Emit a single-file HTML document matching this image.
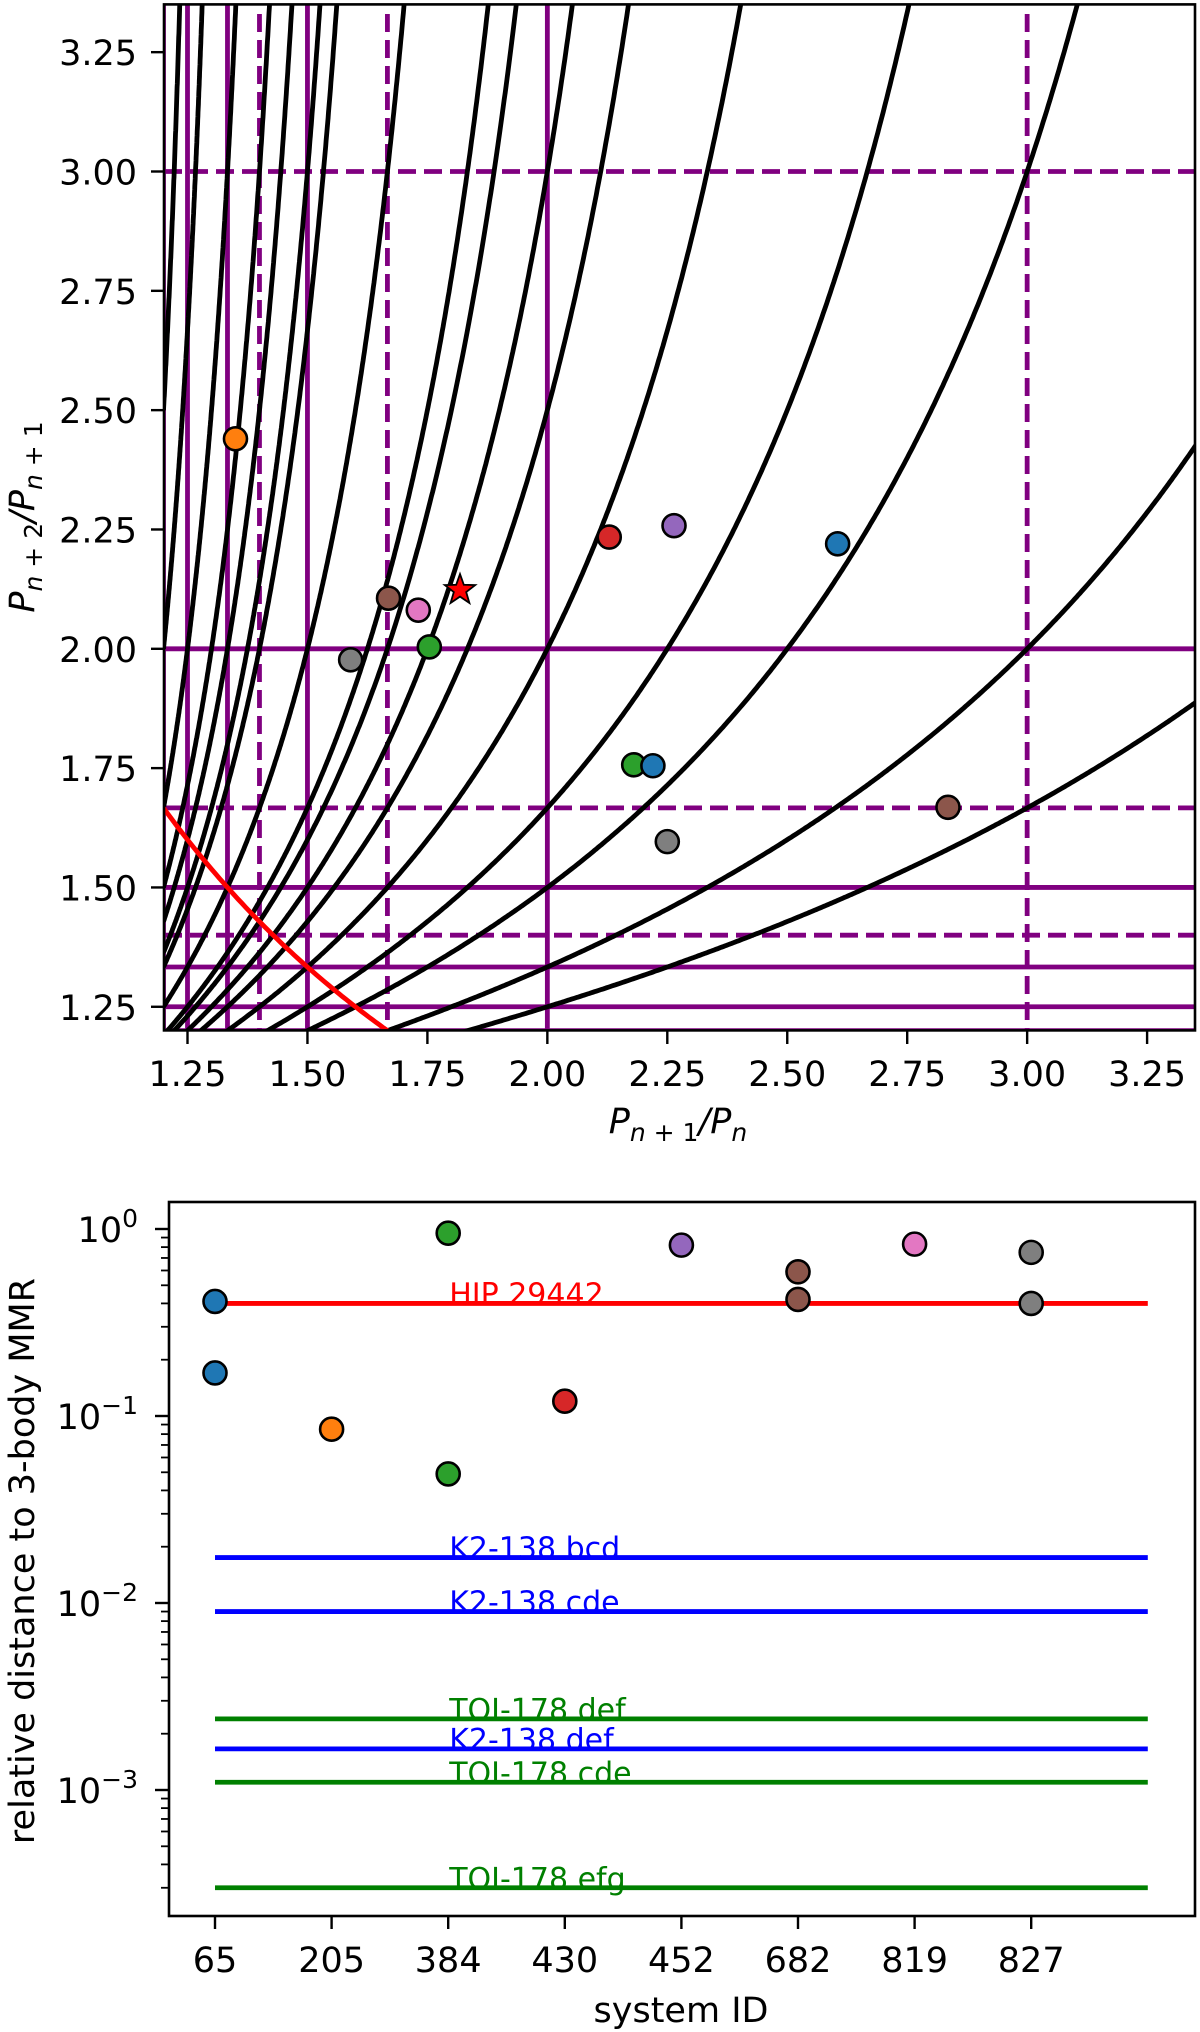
<!DOCTYPE html>
<html><head><meta charset="utf-8"><style>
html,body{margin:0;padding:0;background:#fff;}
svg{display:block;font-family:"DejaVu Sans","Liberation Sans",sans-serif;}
</style></head><body>
<svg id="fig" width="1200" height="2032" viewBox="0 0 1200 2032" xmlns="http://www.w3.org/2000/svg">
<defs>
<clipPath id="clipTop"><rect x="164" y="4.4" width="1031" height="1026"/></clipPath>
<clipPath id="clipBot"><rect x="169" y="1202" width="1026" height="714"/></clipPath>
</defs>
<g id="topPlot"></g>
<g id="botPlot"></g>
</svg>
<script>
// ---- Top chart data ----
const resP = [1,1,1,1,1,2,2,2,3,3,3,3,4,4,4,5,5,5,5];
const resQ = [1,2,3,4,5,1,3,5,1,2,4,5,1,3,5,1,2,3,4];
const solidRatios = [1.2, 1.25, 4/3, 1.5, 2.0];
const dashedRatios = [1.4, 5/3, 3.0];
const topTicks = [1.25,1.5,1.75,2.0,2.25,2.5,2.75,3.0,3.25];
const topTickLabels = ["1.25","1.50","1.75","2.00","2.25","2.50","2.75","3.00","3.25"];
const ptX = [1.35,1.669,1.731,1.754,1.590,2.129,2.264,2.605,2.18,2.22,2.25,2.835];
const ptY = [2.44,2.106,2.081,2.004,1.977,2.234,2.258,2.22,1.757,1.755,1.596,1.668];
const ptColor = ["#ff7f0e","#8c564b","#e377c2","#2ca02c","#7f7f7f","#d62728","#9467bd","#1f77b4","#2ca02c","#1f77b4","#7f7f7f","#8c564b"];
const starX = [1.818];
const starY = [2.123];

// ---- Bottom chart data ----
const systems = ["65","205","384","430","452","682","819","827"];
const sysColor = ["#1f77b4","#ff7f0e","#2ca02c","#d62728","#9467bd","#8c564b","#e377c2","#7f7f7f"];
const dotSys = [0,0,1,2,2,3,4,5,5,6,7,7];
const dotVal = [0.41,0.17,0.085,0.95,0.049,0.12,0.82,0.59,0.42,0.83,0.75,0.40];
const refNames = ["HIP 29442","K2-138 bcd","K2-138 cde","TOI-178 def","K2-138 def","TOI-178 cde","TOI-178 efg"];
const refVals = [0.40,0.0175,0.009,0.0024,0.00166,0.0011,0.0003];
const refColors = ["red","blue","blue","green","blue","green","green"];
const yDecades = [0,-1,-2,-3];

const NS="http://www.w3.org/2000/svg";
const LW=4.8, FS=35;
function mk(tag, attrs, parent, text){
  const e=document.createElementNS(NS,tag);
  for(const k in attrs) e.setAttribute(k,attrs[k]);
  if(text!==undefined) e.textContent=text;
  parent.appendChild(e); return e;
}
function addT(parent,txt,attrs){return mk('tspan',attrs||{},parent,txt);}
// ---------- TOP ----------
const topG=document.getElementById('topPlot');
const X=v=>187.5+(v-1.25)*479.8;
const Y=v=>171.5+(3-v)*477.3;
const gClip=mk('g',{'clip-path':'url(#clipTop)'},topG);


solidRatios.forEach(r=>{
  const v=mk('line',{x1:X(r),x2:X(r),y1:0,y2:1040,stroke:'#800080','stroke-width':LW},gClip);
  
  
  const h=mk('line',{x1:160,x2:1200,y1:Y(r),y2:Y(r),stroke:'#800080','stroke-width':LW},gClip);
  
  
});
dashedRatios.forEach(r=>{
  const v=mk('line',{x1:X(r),x2:X(r),y1:14,y2:1040,stroke:'#800080','stroke-width':LW,'stroke-dasharray':'18 8'},gClip);
  
  
  const h=mk('line',{x1:164,x2:1200,y1:Y(r),y2:Y(r),stroke:'#800080','stroke-width':LW,'stroke-dasharray':'18 8'},gClip);
  
  
});
for(let i=0;i<resP.length;i++){
  const p=resP[i],q=resQ[i];
  const asym=(p+q)/p; let d='';
  for(let k=0;k<=600;k++){
    const x=1.2+(Math.min(asym-1e-4,3.4)-1.2)*k/600;
    const y=q/(p+q-p*x);
    if(y>4){ d+=(d?'L':'M')+X(x).toFixed(1)+','+Y(4).toFixed(1); break; }
    d+=(d?'L':'M')+X(x).toFixed(1)+','+Y(y).toFixed(1);
  }
  const c=mk('path',{d:d,fill:'none',stroke:'#000','stroke-width':LW},gClip);
  
  
}
{let d='';for(let k=0;k<=60;k++){const x=1.2+(2/1.2-1.2)*k/60;d+=(k?'L':'M')+X(x).toFixed(1)+','+Y(2/x).toFixed(1);}
 const r=mk('path',{d:d,fill:'none',stroke:'red','stroke-width':LW},gClip);
 
 }
for(let i=0;i<ptX.length;i++){
  const c=mk('circle',{cx:X(ptX[i]),cy:Y(ptY[i]),r:11.5,fill:ptColor[i],stroke:'#000','stroke-width':2.6},gClip);
  
  
}
for(let i=0;i<starX.length;i++){
  const cx=X(starX[i]),cy=Y(starY[i]);let d='';
  for(let k=0;k<10;k++){const a=-Math.PI/2+k*Math.PI/5;const rr=k%2?6.5:16;d+=(k?'L':'M')+(cx+rr*Math.cos(a)).toFixed(1)+','+(cy+rr*Math.sin(a)).toFixed(1);}
  const s=mk('path',{d:d+'Z',fill:'red',stroke:'#000','stroke-width':1.8},gClip);
  
  
}
const frame=mk('rect',{x:164,y:4.4,width:1031,height:1026,fill:'none',stroke:'#000','stroke-width':2.6},topG);


topTicks.forEach((t,i)=>{
  mk('line',{x1:X(t),x2:X(t),y1:1031,y2:1044,stroke:'#000','stroke-width':2.4},topG);
  const lx=mk('text',{x:X(t),y:1086,'font-size':FS,'text-anchor':'middle'},topG,topTickLabels[i]);
  
  
  mk('line',{x1:151,x2:164,y1:Y(t),y2:Y(t),stroke:'#000','stroke-width':2.4},topG);
  const ly=mk('text',{x:137,y:Y(t)+13,'font-size':FS,'text-anchor':'end'},topG,topTickLabels[i]);
  
  
});
{const t=mk('text',{x:678,y:1133,'font-size':FS,'text-anchor':'middle','font-style':'italic'},topG);
 
 
 addT(t,'P');addT(t,'n',{'font-size':25,dy:8});addT(t,' + 1',{'font-size':25,'font-style':'normal'});addT(t,'/P',{dy:-8});addT(t,'n',{'font-size':25,dy:8});
 const u=mk('text',{x:0,y:0,'font-size':FS,'text-anchor':'middle','font-style':'italic',transform:'translate(34,517) rotate(-90)'},topG);
 
 
 addT(u,'P');addT(u,'n',{'font-size':25,dy:8});addT(u,' + 2',{'font-size':25,'font-style':'normal'});addT(u,'/P',{dy:-8});addT(u,'n',{'font-size':25,dy:8});addT(u,' + 1',{'font-size':25,'font-style':'normal'});
}
// ---------- BOTTOM ----------
const botG=document.getElementById('botPlot');
const BX=i=>215+i*116.6;
const BY=v=>1229-Math.log10(v)*187;
const gb=mk('g',{'clip-path':'url(#clipBot)'},botG);
refVals.forEach((v,i)=>{
  const l=mk('line',{x1:BX(0),x2:BX(8),y1:BY(v),y2:BY(v),stroke:refColors[i],'stroke-width':LW},gb);
  
  
  const t=mk('text',{x:BX(2)+1,y:BY(v)+1,'font-size':30,fill:refColors[i]},gb,refNames[i]);
  
  
});
dotVal.forEach((v,i)=>{
  const c=mk('circle',{cx:BX(dotSys[i]),cy:BY(v),r:11.5,fill:sysColor[dotSys[i]],stroke:'#000','stroke-width':2.6},gb);
  
  
});
const bf=mk('rect',{x:169,y:1202,width:1026,height:714,fill:'none',stroke:'#000','stroke-width':2.6},botG);


systems.forEach((s,i)=>{
  mk('line',{x1:BX(i),x2:BX(i),y1:1916,y2:1929,stroke:'#000','stroke-width':2.4},botG);
  const t=mk('text',{x:BX(i),y:1972,'font-size':FS,'text-anchor':'middle'},botG,s);
  
  
});
yDecades.forEach(d=>{
  const yy=BY(Math.pow(10,d));
  mk('line',{x1:155,x2:169,y1:yy,y2:yy,stroke:'#000','stroke-width':2.4},botG);
  const t=mk('text',{x:138,y:yy+13,'font-size':FS,'text-anchor':'end'},botG);
  
  
  addT(t,'10');addT(t,(d===0?'0':'\u2212'+(-d)),{'font-size':25,dy:-15});
});
for(let d=-4;d<=0;d++)for(let k=2;k<=9;k++){
  const v=k*Math.pow(10,d),y=BY(v);
  if(y>1203&&y<1915) mk('line',{x1:161,x2:169,y1:y,y2:y,stroke:'#000','stroke-width':1.8},botG);
}
{const t=mk('text',{x:681,y:2022,'font-size':FS,'text-anchor':'middle'},botG,'system ID');
 
 
 const u=mk('text',{x:0,y:0,'font-size':FS,'text-anchor':'middle',transform:'translate(34,1561) rotate(-90)'},botG,'relative distance to 3-body MMR');
 
 }
</script>
</body></html>
